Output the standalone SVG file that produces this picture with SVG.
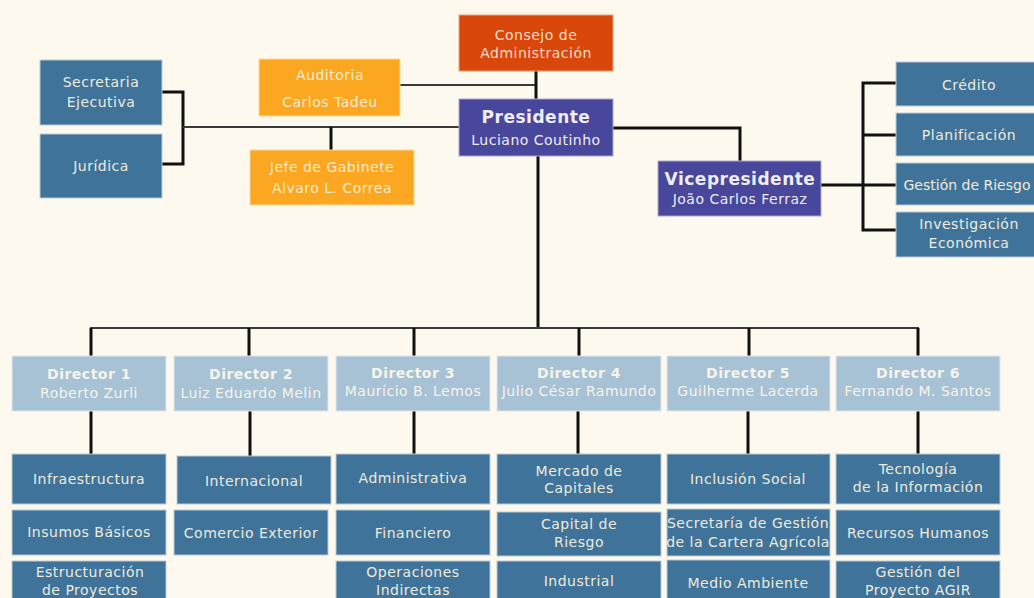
<svg xmlns="http://www.w3.org/2000/svg" width="1034" height="598" viewBox="0 0 1034 598">
<style>
text{font-family:"DejaVu Sans","Verdana",sans-serif;font-size:14px;letter-spacing:0.5px;text-anchor:middle}
.blue rect{fill:#3f7399;stroke:#b9c9d4;stroke-width:1}
.blue text{fill:#eeebde}
.dir rect{fill:#a7c2d4;stroke:#dfe6e9;stroke-width:1}
.dir text{fill:#f6f4ec}
.org rect{fill:#fca722;stroke:#fdd9a0;stroke-width:1}
.org text{fill:#fdeccb}
.red rect{fill:#d9470b;stroke:#f0a07a;stroke-width:1}
.red text{fill:#f8dcc8}
.pur rect{fill:#48479b;stroke:#a9a8d0;stroke-width:1}
.pur text{fill:#eeedf2}
.b{font-weight:bold}
.big{font-size:17px}
.thick{stroke:#111;stroke-width:3;fill:none}
.thin{stroke:#3a3a3a;stroke-width:2;fill:none}
</style>
<rect width="1034" height="598" fill="#fef9ee"/>
<g id="connectors">
<path class="thick" d="M162,92H183V164H162"/>
<path class="thin" d="M183,127H459"/>
<path class="thick" d="M331,127V150"/>
<path class="thin" d="M400,85H536"/>
<path class="thick" d="M536,71V99"/>
<path class="thick" d="M613,128H740V161"/>
<path class="thick" d="M538,156V328"/>
<path class="thin" d="M90,328H919"/>
<path class="thick" d="M91,328V356M249,328V356M414,328V356M579,328V356M749,328V356M918,328V356"/>
<path class="thick" d="M91,411V454M250,411V456M414,411V454M578,411V454M748,411V454M918,411V454"/>
<path class="thick" d="M821,185H863"/>
<path class="thick" d="M896,83H863V230H896M863,135H896M863,185H896"/>
</g>
<g id="consejo" class="red"><rect x="459" y="15" width="154" height="56"/><text x="536" y="40">Consejo de</text><text x="536" y="58">Administración</text></g>
<g id="presidente" class="pur"><rect x="459" y="99" width="154" height="57"/><text x="536" y="123" class="b big">Presidente</text><text x="536" y="145">Luciano Coutinho</text></g>
<g id="vicepresidente" class="pur"><rect x="658" y="161" width="163" height="55"/><text x="740" y="185" class="b big">Vicepresidente</text><text x="740" y="204">João Carlos Ferraz</text></g>
<g id="auditoria" class="org"><rect x="259" y="59" width="141" height="57"/><text x="330" y="80">Auditoria</text><text x="330" y="107">Carlos Tadeu</text></g>
<g id="jefe" class="org"><rect x="250" y="150" width="164" height="55"/><text x="332" y="172">Jefe de Gabinete</text><text x="332" y="193">Alvaro L. Correa</text></g>
<g id="secretaria" class="blue"><rect x="40" y="60" width="122" height="65"/><text x="101" y="87">Secretaria</text><text x="101" y="107">Ejecutiva</text></g>
<g id="juridica" class="blue"><rect x="40" y="134" width="122" height="64"/><text x="101" y="171">Jurídica</text></g>
<g id="credito" class="blue"><rect x="896" y="62" width="146" height="44"/><text x="969" y="90">Crédito</text></g>
<g id="planificacion" class="blue"><rect x="896" y="113" width="146" height="43"/><text x="969" y="140">Planificación</text></g>
<g id="riesgo" class="blue"><rect x="896" y="163" width="146" height="42"/><text x="967" y="190" style="letter-spacing:0">Gestión de Riesgo</text></g>
<g id="investigacion" class="blue"><rect x="896" y="212" width="146" height="45"/><text x="969" y="229">Investigación</text><text x="969" y="248">Económica</text></g>
<g id="director1" class="dir"><rect x="12" y="356" width="154" height="55"/><text x="89" y="379" class="b">Director 1</text><text x="89" y="398">Roberto Zurli</text></g>
<g id="director2" class="dir"><rect x="174" y="356" width="154" height="55"/><text x="251" y="379" class="b">Director 2</text><text x="251" y="398">Luiz Eduardo Melin</text></g>
<g id="director3" class="dir"><rect x="336" y="356" width="154" height="55"/><text x="413" y="378" class="b">Director 3</text><text x="413" y="396">Maurício B. Lemos</text></g>
<g id="director4" class="dir"><rect x="497" y="356" width="164" height="55"/><text x="579" y="378" class="b">Director 4</text><text x="579" y="396">Julio César Ramundo</text></g>
<g id="director5" class="dir"><rect x="667" y="356" width="163" height="55"/><text x="748" y="378" class="b">Director 5</text><text x="748" y="396">Guilherme Lacerda</text></g>
<g id="director6" class="dir"><rect x="836" y="356" width="164" height="55"/><text x="918" y="378" class="b">Director 6</text><text x="918" y="396">Fernando M. Santos</text></g>
<g id="infraestructura" class="blue"><rect x="12" y="454" width="154" height="50"/><text x="89" y="484">Infraestructura</text></g>
<g id="insumos" class="blue"><rect x="12" y="510" width="154" height="45"/><text x="89" y="537">Insumos Básicos</text></g>
<g id="estructuracion" class="blue"><rect x="12" y="561" width="154" height="45"/><text x="90" y="577">Estructuración</text><text x="90" y="595">de Proyectos</text></g>
<g id="internacional" class="blue"><rect x="177" y="456" width="154" height="48"/><text x="254" y="486">Internacional</text></g>
<g id="comercio" class="blue"><rect x="174" y="510" width="154" height="45"/><text x="251" y="538">Comercio Exterior</text></g>
<g id="administrativa" class="blue"><rect x="336" y="454" width="154" height="50"/><text x="413" y="483">Administrativa</text></g>
<g id="financiero" class="blue"><rect x="336" y="510" width="154" height="45"/><text x="413" y="538">Financiero</text></g>
<g id="operaciones" class="blue"><rect x="336" y="561" width="154" height="45"/><text x="413" y="577">Operaciones</text><text x="413" y="595">Indirectas</text></g>
<g id="mercado" class="blue"><rect x="497" y="454" width="164" height="50"/><text x="579" y="476">Mercado de</text><text x="579" y="493">Capitales</text></g>
<g id="capital" class="blue"><rect x="497" y="512" width="164" height="44"/><text x="579" y="529">Capital de</text><text x="579" y="547">Riesgo</text></g>
<g id="industrial" class="blue"><rect x="497" y="561" width="164" height="45"/><text x="579" y="586">Industrial</text></g>
<g id="inclusion" class="blue"><rect x="667" y="454" width="163" height="50"/><text x="748" y="484">Inclusión Social</text></g>
<g id="cartera" class="blue"><rect x="667" y="509" width="163" height="47"/><text x="748" y="528">Secretaría de Gestión</text><text x="748" y="547">de la Cartera Agrícola</text></g>
<g id="medio" class="blue"><rect x="667" y="560" width="163" height="46"/><text x="748" y="588">Medio Ambiente</text></g>
<g id="tecnologia" class="blue"><rect x="836" y="454" width="164" height="50"/><text x="918" y="474">Tecnología</text><text x="918" y="492">de la Información</text></g>
<g id="recursos" class="blue"><rect x="836" y="510" width="164" height="45"/><text x="918" y="538">Recursos Humanos</text></g>
<g id="agir" class="blue"><rect x="836" y="561" width="164" height="45"/><text x="918" y="577">Gestión del</text><text x="918" y="595">Proyecto AGIR</text></g>
</svg>
